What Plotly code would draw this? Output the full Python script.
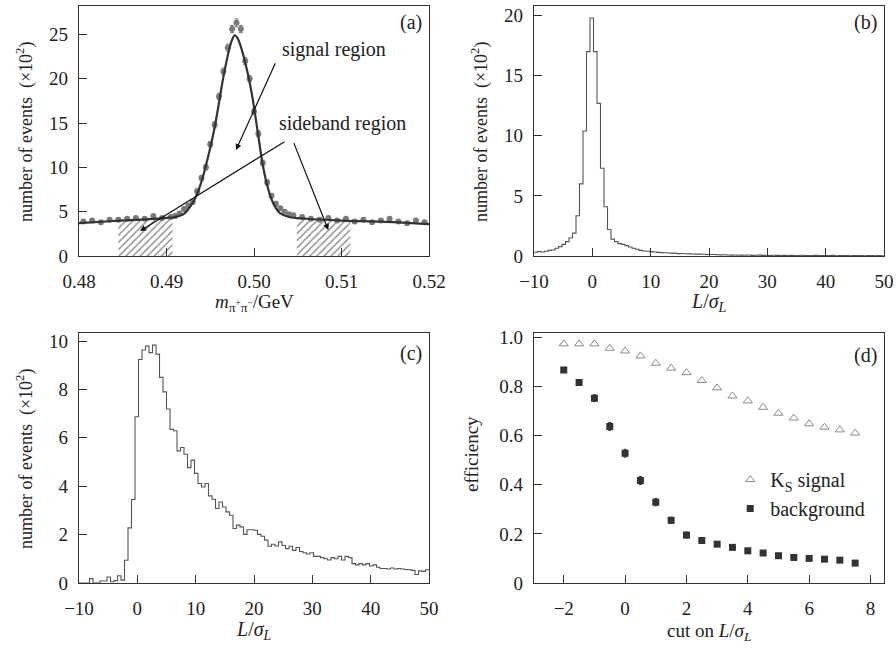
import numpy as np
import plotly.graph_objects as go

FONT = "Liberation Serif"

# ---------- (a) pi+pi- invariant mass ----------
mass = [0.4805, 0.4815, 0.4825, 0.4835, 0.4845, 0.4855, 0.4865, 0.4875, 0.4885, 0.4895, 0.4905,
        0.4910, 0.4915, 0.4920, 0.4925, 0.4930, 0.4935, 0.4940, 0.4945, 0.4950, 0.4955,
        0.4960, 0.4965, 0.4970, 0.4975, 0.4980, 0.4985, 0.4990, 0.4995, 0.5000, 0.5005,
        0.5010, 0.5015, 0.5020, 0.5025, 0.5030, 0.5035, 0.5040, 0.5045,
        0.5055, 0.5065, 0.5075, 0.5085, 0.5095, 0.5105, 0.5115, 0.5125, 0.5135, 0.5145,
        0.5155, 0.5165, 0.5175, 0.5185, 0.5195]
mass_counts = [3.9, 4.0, 3.8, 4.1, 4.1, 4.2, 4.3, 4.2, 4.5, 4.3, 4.4,
               4.5, 4.8, 5.3, 5.7, 6.1, 7.3, 8.8, 10.0, 12.6, 14.8,
               18.0, 20.8, 23.5, 25.6, 26.3, 25.6, 22.0, 20.0, 16.3, 13.8,
               10.5, 8.3, 6.8, 5.9, 5.4, 5.0, 4.7, 4.6,
               4.4, 4.2, 4.1, 4.3, 4.0, 4.2, 3.9, 4.1, 3.8, 4.0,
               4.2, 3.9, 3.7, 4.0, 3.8]
mass_err = [0.15] * 11 + [0.2, 0.2, 0.2, 0.2, 0.25, 0.25, 0.3, 0.3, 0.3, 0.35,
                          0.35, 0.4, 0.4, 0.4, 0.45, 0.4, 0.4, 0.35, 0.35, 0.35,
                          0.3, 0.3, 0.25, 0.25, 0.2, 0.2, 0.2, 0.2] + [0.15] * 15

fit_mass = [0.4800, 0.4840, 0.4880, 0.4900, 0.4910, 0.4920, 0.4925, 0.4930, 0.4935, 0.4940,
            0.4945, 0.4950, 0.4955, 0.4960, 0.4965, 0.4970, 0.4975, 0.4978, 0.4981, 0.4985,
            0.4990, 0.4995, 0.5000, 0.5005, 0.5010, 0.5015, 0.5020, 0.5025, 0.5030, 0.5040,
            0.5060, 0.5100, 0.5150, 0.5200]
fit_counts = [3.7, 3.95, 4.15, 4.3, 4.4, 4.75, 5.3, 6.0, 7.0, 8.4,
              10.2, 12.2, 14.5, 17.3, 20.2, 22.6, 24.4, 24.9, 24.6, 23.6,
              21.8, 19.6, 16.8, 13.5, 10.3, 8.0, 6.4, 5.4, 4.8, 4.4,
              4.2, 4.0, 3.85, 3.6]

sideband_lo = [0.4845, 0.4907]
sideband_lo_top = [4.05, 4.35]
sideband_hi = [0.5049, 0.5110]
sideband_hi_top = [4.25, 4.0]

mass_ticks = [0.48, 0.49, 0.50, 0.51, 0.52]
mass_ticklabels = ["0.48", "0.49", "0.50", "0.51", "0.52"]

# ---------- (b), (c): 100 bins of 0.6 from -10 to 50 ----------
bin_lo, bin_w = -10.0, 0.6
bkg_hist = [0.31, 0.36, 0.33, 0.40, 0.47, 0.50, 0.64, 0.78, 0.97, 1.20,
            1.50, 1.90, 3.35, 6.00, 10.4, 17.0, 19.8, 17.0, 12.7, 7.30,
            4.10, 2.20, 1.40, 1.20, 1.03, 0.97, 0.86, 0.75, 0.64, 0.56,
            0.47, 0.42, 0.39, 0.36, 0.33, 0.30, 0.28, 0.27, 0.25, 0.24,
            0.22, 0.20, 0.21, 0.19, 0.18, 0.17, 0.16, 0.16, 0.15, 0.13,
            0.12, 0.12, 0.10, 0.09, 0.10, 0.08, 0.07, 0.08, 0.06, 0.07,
            0.06, 0.08, 0.05, 0.06, 0.07, 0.05, 0.06, 0.04, 0.06, 0.05,
            0.04, 0.05, 0.03, 0.05, 0.04, 0.04, 0.06, 0.03, 0.04, 0.03,
            0.05, 0.04, 0.03, 0.04, 0.03, 0.05, 0.02, 0.03, 0.04, 0.03,
            0.02, 0.04, 0.03, 0.03, 0.02, 0.04, 0.03, 0.02, 0.03, 0.02]
sig_hist = [0.00, 0.00, 0.00, 0.18, 0.00, 0.00, 0.08, 0.08, 0.25, 0.05,
            0.10, 0.30, 0.12, 0.94, 2.28, 3.45, 6.87, 9.24, 9.63, 9.79,
            9.52, 9.83, 9.46, 8.50, 7.90, 7.19, 6.35, 6.29, 5.46, 5.60,
            5.32, 4.77, 5.08, 4.53, 4.11, 3.97, 4.11, 3.60, 3.46, 3.08,
            3.35, 3.14, 2.94, 2.80, 2.25, 2.39, 2.32, 2.01, 2.20, 2.20,
            2.18, 2.01, 1.93, 1.77, 1.52, 1.60, 1.53, 1.70, 1.55, 1.42,
            1.52, 1.35, 1.47, 1.30, 1.25, 1.20, 1.25, 1.10, 1.10, 1.05,
            1.00, 0.95, 1.05, 1.00, 1.10, 0.95, 1.10, 1.05, 0.80, 0.75,
            0.80, 0.75, 0.80, 0.70, 0.75, 0.65, 0.60, 0.60, 0.58, 0.62,
            0.58, 0.60, 0.58, 0.56, 0.55, 0.52, 0.35, 0.50, 0.48, 0.55]

# ---------- (d) efficiency vs cut ----------
cuts = [-2.0, -1.5, -1.0, -0.5, 0.0, 0.5, 1.0, 1.5, 2.0, 2.5,
        3.0, 3.5, 4.0, 4.5, 5.0, 5.5, 6.0, 6.5, 7.0, 7.5]
eff_sig = [0.973, 0.973, 0.973, 0.955, 0.944, 0.924, 0.894, 0.874, 0.856, 0.824,
           0.794, 0.761, 0.741, 0.715, 0.691, 0.671, 0.648, 0.634, 0.623, 0.610]
eff_bkg = [0.867, 0.816, 0.752, 0.637, 0.528, 0.417, 0.329, 0.255, 0.195, 0.173,
           0.158, 0.145, 0.131, 0.122, 0.111, 0.104, 0.100, 0.097, 0.093, 0.081]
eff_bkg_err = [0.010, 0.012, 0.014, 0.016, 0.016, 0.016, 0.015, 0.013, 0.012, 0.010,
               0.009, 0.008, 0.007, 0.007, 0.006, 0.006, 0.006, 0.005, 0.005, 0.005]
eff_ticks = [0, 0.2, 0.4, 0.6, 0.8, 1.0]
eff_ticklabels = ["0", "0.2", "0.4", "0.6", "0.8", "1.0"]

edges = bin_lo + bin_w * np.arange(len(bkg_hist) + 1)

fig = go.Figure()

hatch = dict(shape="/", fgcolor="#000", bgcolor="white", size=5, solidity=0.25)

# (a)
fig.add_trace(go.Scatter(x=sideband_lo + sideband_lo[::-1], y=sideband_lo_top + [0, 0],
                         fill="toself", mode="none", fillcolor="rgba(0,0,0,0)", fillpattern=hatch,
                         xaxis="x", yaxis="y", showlegend=False))
fig.add_trace(go.Scatter(x=sideband_hi + sideband_hi[::-1], y=sideband_hi_top + [0, 0],
                         fill="toself", mode="none", fillcolor="rgba(0,0,0,0)", fillpattern=hatch,
                         xaxis="x", yaxis="y", showlegend=False))
fig.add_trace(go.Scatter(x=mass, y=mass_counts, mode="markers",
                         marker=dict(color="#7a7a7a", size=6),
                         error_y=dict(type="data", array=mass_err, color="#7a7a7a", thickness=1, width=2),
                         xaxis="x", yaxis="y", showlegend=False))
fig.add_trace(go.Scatter(x=fit_mass, y=fit_counts, mode="lines", line_shape="spline",
                         line=dict(color="#333", width=2.2),
                         xaxis="x", yaxis="y", showlegend=False))

# (b)
fig.add_trace(go.Scatter(x=edges, y=bkg_hist + [bkg_hist[-1]], mode="lines", line_shape="hv",
                         line=dict(color="#555", width=1.1), xaxis="x2", yaxis="y2", showlegend=False))
# (c)
fig.add_trace(go.Scatter(x=edges, y=sig_hist + [sig_hist[-1]], mode="lines", line_shape="hv",
                         line=dict(color="#555", width=1.1), xaxis="x3", yaxis="y3", showlegend=False))
# (d)
fig.add_trace(go.Scatter(x=cuts, y=eff_sig, mode="markers", name="K<sub>S</sub> signal",
                         marker=dict(symbol="triangle-up-open", color="#8a8a8a", size=8, line=dict(width=1)),
                         xaxis="x4", yaxis="y4"))
fig.add_trace(go.Scatter(x=cuts, y=eff_bkg, mode="markers", name="background",
                         marker=dict(symbol="square", color="#333", size=7),
                         error_y=dict(type="data", array=eff_bkg_err, color="#333", thickness=1, width=1.5),
                         xaxis="x4", yaxis="y4"))

W, H = 896, 648
xa = [79 / W, 429 / W]
xb = [534 / W, 884 / W]
ytop = [1 - 256 / H, 1 - 6 / H]
ybot = [1 - 583 / H, 1 - 333.3 / H]

axis_common = dict(showline=True, mirror=True, linecolor="#333", linewidth=1.2,
                   ticks="inside", ticklen=8, tickwidth=1, tickcolor="#333",
                   showgrid=False, zeroline=False, automargin=False, tickmode="array",
                   tickfont=dict(family=FONT, size=19, color="#222"))
xcommon = dict(ticklabelstandoff=8, **axis_common)
ycommon = dict(ticklabelstandoff=6, **axis_common)

fig.update_layout(
    width=W, height=H,
    margin=dict(l=0, r=0, t=0, b=0),
    paper_bgcolor="white", plot_bgcolor="white",
    font=dict(family=FONT, size=18, color="#222"),
    xaxis=dict(domain=xa, anchor="y", range=[0.48, 0.52], tickvals=mass_ticks,
               ticktext=mass_ticklabels, **xcommon),
    yaxis=dict(domain=ytop, anchor="x", range=[0, 28.2], tickvals=[0, 5, 10, 15, 20, 25], **ycommon),
    xaxis2=dict(domain=xb, anchor="y2", range=[-10, 50], tickvals=[-10, 0, 10, 20, 30, 40, 50], **xcommon),
    yaxis2=dict(domain=ytop, anchor="x2", range=[0, 20.8], tickvals=[0, 5, 10, 15, 20], **ycommon),
    xaxis3=dict(domain=xa, anchor="y3", range=[-10, 50], tickvals=[-10, 0, 10, 20, 30, 40, 50], **xcommon),
    yaxis3=dict(domain=ybot, anchor="x3", range=[0, 10.32], tickvals=[0, 2, 4, 6, 8, 10], **ycommon),
    xaxis4=dict(domain=xb, anchor="y4", range=[-2.97, 8.44], tickvals=[-2, 0, 2, 4, 6, 8], **xcommon),
    yaxis4=dict(domain=ybot, anchor="x4", range=[0, 1.016], tickvals=eff_ticks,
                ticktext=eff_ticklabels, **ycommon),
    legend=dict(x=0.815, y=0.29, xanchor="left", yanchor="top", bgcolor="rgba(0,0,0,0)",
                font=dict(family=FONT, size=20, color="#222"), tracegroupgap=0, itemwidth=30),
)

ann = []
def txt(x, y, s, ref="paper", xref=None, yref=None, angle=0, size=18, xanchor="center"):
    ann.append(dict(x=x, y=y, text=s, showarrow=False, textangle=angle,
                    xref=xref or ref, yref=yref or ref, xanchor=xanchor, yanchor="middle",
                    font=dict(family=FONT, size=size, color="#222")))

ylab = "number of events  (×10<sup>2</sup>)"
txt(25 / W, 1 - 132 / H, ylab, angle=-90)
txt(480 / W, 1 - 132 / H, ylab, angle=-90)
txt(25 / W, 1 - 459 / H, ylab, angle=-90)
txt(471 / W, 1 - 454 / H, "efficiency", angle=-90, size=19)
txt(254 / W, 1 - 303 / H, "<i>m</i><sub>π<sup>+</sup>π<sup>−</sup></sub>/GeV", size=19)
txt(709 / W, 1 - 302 / H, "<i>L</i>/<i>σ<sub>L</sub></i>", size=20)
txt(254 / W, 1 - 630 / H, "<i>L</i>/<i>σ<sub>L</sub></i>", size=20)
txt(709 / W, 1 - 632 / H, "cut on <i>L</i>/<i>σ<sub>L</sub></i>", size=19)

txt(424 / W, 1 - 22 / H, "(a)", xanchor="right", size=20)
txt(879 / W, 1 - 22 / H, "(b)", xanchor="right", size=20)
txt(424 / W, 1 - 353 / H, "(c)", xanchor="right", size=20)
txt(879 / W, 1 - 355 / H, "(d)", xanchor="right", size=20)

txt(0.50912, 23.25, "signal region", xref="x", yref="y", size=20)
txt(0.51013, 14.98, "sideband region", xref="x", yref="y", size=20)

arrow = dict(showarrow=True, arrowhead=2, arrowsize=1, arrowwidth=1.2, arrowcolor="#111",
             xref="x", yref="y", axref="x", ayref="y", text="")
ann.append(dict(x=0.49794, y=11.96, ax=0.50251, ay=21.9, **arrow))
ann.append(dict(x=0.48697, y=2.82, ax=0.50366, ay=13.0, **arrow))
ann.append(dict(x=0.50849, y=2.93, ax=0.50449, ay=12.9, **arrow))

fig.update_layout(annotations=ann)
# the page body has a default 8px margin; drop it so the figure fills the window
fig.write_html("out.html", config={"displayModeBar": False},
               post_script="document.body.style.margin='0px';")
